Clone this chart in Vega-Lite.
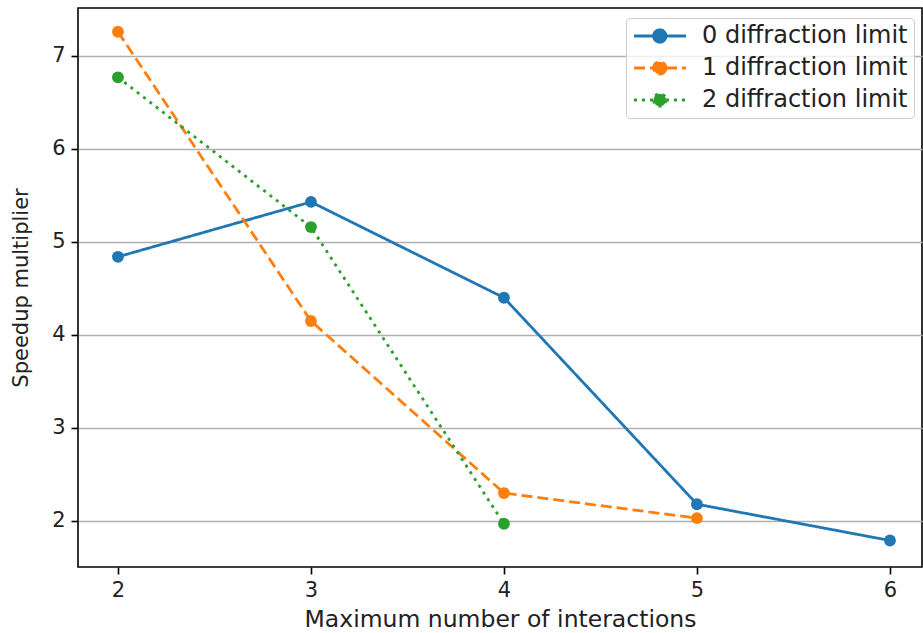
{
  "$schema": "https://vega.github.io/schema/vega-lite/v6.json",
  "width": 844,
  "height": 559,
  "autosize": {"type": "none"},
  "padding": {"left": 78, "top": 8, "right": 1, "bottom": 66},
  "background": "white",
  "config": {
    "view": {"stroke": "black", "strokeWidth": 1.6},
    "font": "DejaVu Sans",
    "axis": {
      "labelFont": "DejaVu Sans",
      "titleFont": "DejaVu Sans",
      "labelColor": "#222222",
      "titleColor": "#222222",
      "titleFontWeight": "normal",
      "tickColor": "black",
      "tickWidth": 1.6,
      "tickSize": 7,
      "domain": false
    }
  },
  "data": {
    "values": [
      {"series": "0 diffraction limit", "x": 2, "y": 4.84},
      {"series": "0 diffraction limit", "x": 3, "y": 5.43},
      {"series": "0 diffraction limit", "x": 4, "y": 4.40},
      {"series": "0 diffraction limit", "x": 5, "y": 2.18},
      {"series": "0 diffraction limit", "x": 6, "y": 1.79},
      {"series": "1 diffraction limit", "x": 2, "y": 7.26},
      {"series": "1 diffraction limit", "x": 3, "y": 4.15},
      {"series": "1 diffraction limit", "x": 4, "y": 2.30},
      {"series": "1 diffraction limit", "x": 5, "y": 2.03},
      {"series": "2 diffraction limit", "x": 2, "y": 6.77},
      {"series": "2 diffraction limit", "x": 3, "y": 5.16},
      {"series": "2 diffraction limit", "x": 4, "y": 1.97}
    ]
  },
  "encoding": {
    "x": {
      "field": "x",
      "type": "quantitative",
      "scale": {"domain": [1.793, 6.166], "nice": false, "zero": false},
      "axis": {
        "title": "Maximum number of interactions",
        "values": [2, 3, 4, 5, 6],
        "format": "d",
        "grid": false,
        "labelFontSize": 21,
        "titleFontSize": 23.5,
        "labelPadding": 5,
        "titlePadding": 7
      }
    },
    "y": {
      "field": "y",
      "type": "quantitative",
      "scale": {"domain": [1.505, 7.515], "nice": false, "zero": false},
      "axis": {
        "title": "Speedup multiplier",
        "values": [2, 3, 4, 5, 6, 7],
        "format": "d",
        "grid": true,
        "gridColor": "#b0b0b0",
        "gridWidth": 1.4,
        "labelFontSize": 21,
        "titleFontSize": 21,
        "labelPadding": 6,
        "titlePadding": 20
      }
    }
  },
  "layer": [
    {
      "mark": {"type": "line", "strokeWidth": 2.8},
      "encoding": {
        "color": {
          "field": "series",
          "type": "nominal",
          "scale": {
            "domain": ["0 diffraction limit", "1 diffraction limit", "2 diffraction limit"],
            "range": ["#1f77b4", "#ff7f0e", "#2ca02c"]
          },
          "legend": {
            "title": null,
            "orient": "none",
            "legendX": 548,
            "legendY": 10,
            "labelFontSize": 24,
            "labelFont": "DejaVu Sans",
            "labelColor": "#222222",
            "labelLimit": 400,
            "labelOffset": 46,
            "rowPadding": 8,
            "symbolType": "M-1,0H4.2M2.2,0A0.62,0.62,0,1,1,0.96,0A0.62,0.62,0,1,1,2.2,0Z",
            "symbolSize": 400,
            "symbolStrokeWidth": 2.8,
            "fillColor": "rgba(255,255,255,0.8)",
            "strokeColor": "#cccccc",
            "cornerRadius": 4,
            "padding": 6,
            "encode": {
              "symbols": {"update": {"fill": {"scale": "color", "field": "value"}}}
            }
          }
        },
        "strokeDash": {
          "field": "series",
          "type": "nominal",
          "scale": {
            "domain": ["0 diffraction limit", "1 diffraction limit", "2 diffraction limit"],
            "range": [[1, 0], [11, 5], [3, 5]]
          },
          "legend": null
        }
      }
    },
    {
      "mark": {"type": "point", "filled": true, "size": 140, "opacity": 1},
      "encoding": {
        "color": {"field": "series", "type": "nominal", "legend": null}
      }
    }
  ]
}
